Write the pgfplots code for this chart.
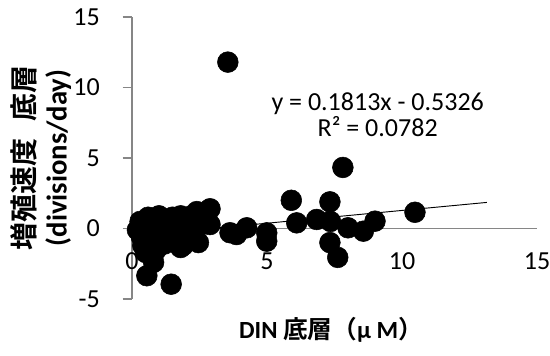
\documentclass[border=0pt]{standalone}
\usepackage{pgfplots}
\pgfplotsset{compat=1.18}
\usepackage{fontspec}
\setmainfont{Carlito}
\newfontfamily\cjk{Noto Sans CJK JP}[BoldFont={Noto Sans CJK JP Bold}]
\definecolor{axgray}{RGB}{134,134,134}
\begin{document}
\begin{tikzpicture}
\begin{axis}[
  scale only axis, width=303.75pt, height=211.5pt,
  xmin=0, xmax=15, ymin=-5, ymax=15,
  clip=false,
  axis x line=middle, axis y line=left,
  x axis line style={-, draw=axgray, line width=0.8pt},
  y axis line style={-, draw=axgray, line width=0.8pt},
  xtick={0,5,10,15}, ytick={-5,0,5,10,15},
  hide obscured x ticks=false,
  xtick style={draw=none},
  ytick style={draw=axgray, line width=0.8pt},
  tick align=outside, major tick length=7pt,
  /pgf/number format/assume math mode=true,
  ticklabel style={font=\fontsize{19.5}{22}\selectfont},
  xticklabel style={anchor=center, yshift=-17.5pt},
  yticklabel style={anchor=east, inner sep=0pt, xshift=-17pt},
]
\addplot[only marks, mark=*, mark size=7.8pt, mark options={fill=black, draw=black}] coordinates {
(0.2,-0.1) (0.3,0.5) (0.35,-0.6) (0.4,-1.2) (0.5,0.2) (0.6,0.8) (0.6,-0.3)
(0.7,-0.9) (0.8,0.4) (0.9,-0.2) (0.9,-1.5) (1.0,0.9) (1.0,-0.6) (1.1,0.1)
(1.2,-1.1) (1.3,0.6) (1.3,-0.4) (1.5,0.8) (1.5,-0.9) (1.6,0.2) (1.7,-0.5)
(1.8,0.9) (1.9,-1.2) (2.0,0.4) (2.1,-0.2) (2.2,0.9) (2.3,-0.7) (2.4,1.2)
(2.46,-1.0) (2.6,0.3) (2.89,1.4) (2.89,0.28) (0.5,-1.7) (0.8,-2.4) (0.55,-3.35)
(1.45,-3.95) (1.8,-1.35)
(3.55,11.8) (3.63,-0.3) (3.87,-0.43) (4.25,0.05) (4.99,-0.31) (4.99,-0.9)
(5.9,2.0) (6.1,0.4) (6.84,0.64) (7.33,1.89) (7.35,0.5) (7.33,-1.0) (7.62,-2.05)
(7.81,4.33) (8.0,0.05) (8.57,-0.19) (9.0,0.52) (10.48,1.15)
};
\addplot[black, line width=0.7pt, no marks] coordinates {(0.2,-0.4963) (13.14,1.8497)};
\node[align=center, font=\fontsize{19.5}{19.5}\selectfont] at (axis cs:9.1,8.1)
  {y = 0.1813x - 0.5326\\R² = 0.0782};
\end{axis}
\node[rotate=90, align=center, font=\bfseries\fontsize{21.5}{24}\selectfont]
  at ([xshift=-68.25pt]current axis.west)
  {{\cjk\bfseries\fontsize{21}{24}\selectfont 増殖速度\hspace{0.6em}底層}\\(divisions/day)};
\node[font=\bfseries\fontsize{18.5}{22}\selectfont] at ([xshift=-2.6pt,yshift=-23.25pt]current axis.south)
  {DIN {\cjk\bfseries 底層（}µ M{\cjk\bfseries ）}};
\pgfresetboundingbox
\path[use as bounding box] ([shift={(-99pt,-42.75pt)}]current axis.south west)
  rectangle ([shift={(9.75pt,12.75pt)}]current axis.north east);
\end{tikzpicture}
\end{document}
